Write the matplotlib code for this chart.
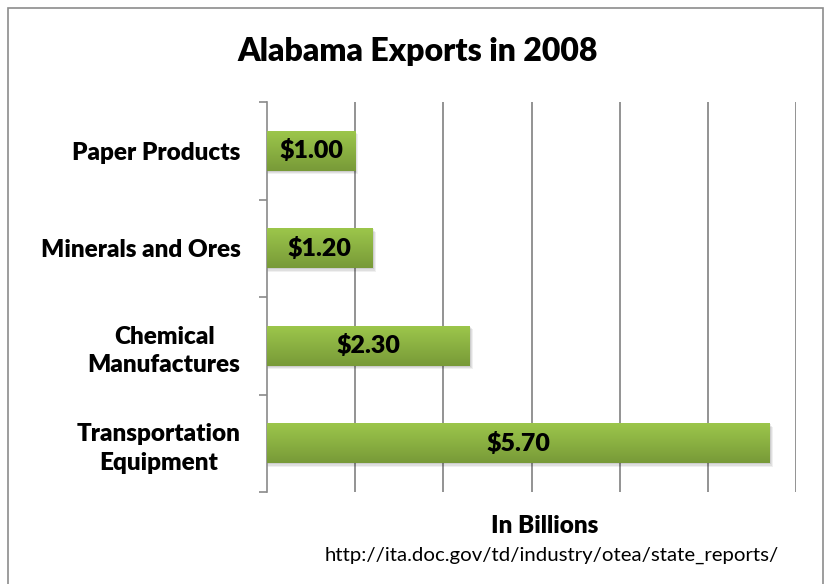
import matplotlib
matplotlib.use('Agg')
import matplotlib.pyplot as plt
import numpy as np
from matplotlib.patches import Rectangle

plt.rcParams['font.family'] = ['Lato', 'DejaVu Sans']

categories = ['Paper Products', 'Minerals and Ores', 'Chemical\nManufactures',
              'Transportation\nEquipment']
values = [1.00, 1.20, 2.30, 5.70]
value_labels = ['$1.00', '$1.20', '$2.30', '$5.70']

fig = plt.figure(figsize=(8.28, 5.84), dpi=100)
ax = fig.add_axes([267 / 828, 92 / 584, 529 / 828, 390 / 584])

# outer frame like the excel chart area
fig.patches.append(Rectangle((8 / 828, -0.02), 815 / 828, 1 - 8 / 584 + 0.02,
                             transform=fig.transFigure, fill=False,
                             edgecolor='#8c8c8c', linewidth=1.2))

bar_h = 0.41
grad = np.linspace(0, 1, 100).reshape(-1, 1)
cmap = matplotlib.colors.LinearSegmentedColormap.from_list('g', ['#9cc64b', '#789a38'])

y = np.arange(len(categories))
for i, v in enumerate(values):
    # soft shadow
    for k, a in enumerate([0.06, 0.07, 0.08]):
        off = 0.012 * (3 - k)
        ax.add_patch(Rectangle((0, y[i] - bar_h / 2 + off), v + off, bar_h,
                               facecolor='#000000', alpha=a, linewidth=0, zorder=2))
    ax.imshow(grad, cmap=cmap, aspect='auto', zorder=3,
              extent=[0, v, y[i] + bar_h / 2, y[i] - bar_h / 2])
    ax.text(v / 2, y[i], value_labels[i], ha='center', va='center',
            fontsize=18, fontweight='heavy', color='black', zorder=4)

ax.set_xlim(0, 6)
ax.set_ylim(3.5, -0.5)
ax.set_xticks([1, 2, 3, 4, 5, 6])
ax.xaxis.grid(True, color='#8a8a8a', linewidth=1.3)
ax.set_axisbelow(True)
ax.tick_params(axis='x', length=0, labelbottom=False)

ax.set_yticks(y)
ax.set_yticklabels(categories, fontsize=17.5, fontweight='heavy',
                   multialignment='center', linespacing=1.35)
ax.set_yticks([-0.5, 0.5, 1.5, 2.5, 3.5], minor=True)
ax.tick_params(axis='y', which='major', length=0, pad=19)
ax.tick_params(axis='y', which='minor', length=6, color='#8a8a8a', width=1.2)

for s in ['top', 'right', 'bottom']:
    ax.spines[s].set_visible(False)
ax.spines['left'].set_color('#8a8a8a')
ax.spines['left'].set_linewidth(1.2)

fig.text(418 / 828, 1 - 52 / 584, 'Alabama Exports in 2008', ha='center', va='center',
         fontsize=23, fontweight='heavy')
fig.text(545 / 828, 1 - 526 / 584, 'In Billions', ha='center', va='center',
         fontsize=17.5, fontweight='heavy')
fig.text(552 / 828, 1 - 555 / 584, 'http://ita.doc.gov/td/industry/otea/state_reports/',
         ha='center', va='center', fontsize=14.7)

fig.savefig('out.png', dpi=100)
